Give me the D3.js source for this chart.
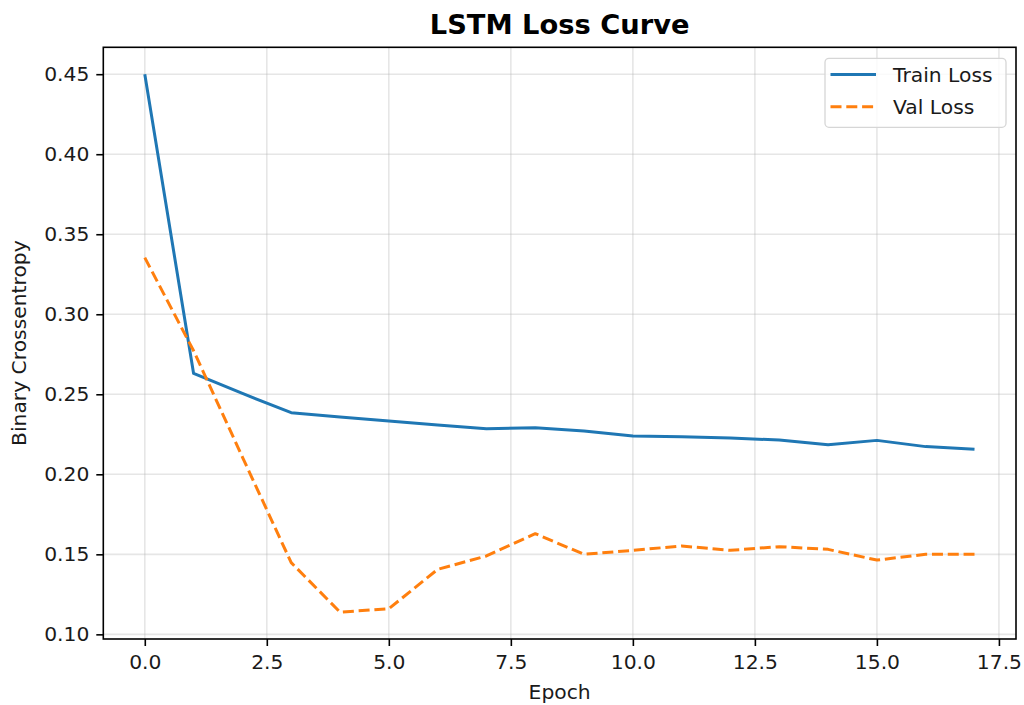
<!DOCTYPE html>
<html>
<head>
<meta charset="utf-8">
<script src="https://cdn.jsdelivr.net/npm/d3@7/dist/d3.min.js"></script>
<style>
  html, body { margin: 0; padding: 0; background: #fff; }
  svg { display: block; font-family: "DejaVu Sans", sans-serif; }
</style>
</head>
<body>
<svg id="chart" width="1024" height="705"></svg>
<script>
// Training history of the LSTM model, one value per epoch
const epochs = d3.range(0, 18);
const trainLoss = [0.450, 0.263, 0.2505, 0.2385, 0.2358, 0.2333, 0.2308, 0.2285, 0.2291,
                   0.2271, 0.2239, 0.2235, 0.2227, 0.2214, 0.2185, 0.2212, 0.2173, 0.2156];
const valLoss   = [0.3354, 0.2772, 0.2108, 0.1448, 0.1139, 0.1160, 0.1406, 0.1490, 0.1629,
                   0.1500, 0.1525, 0.1552, 0.1525, 0.1548, 0.1531, 0.1464, 0.1500, 0.1500];
const xTicks = [0, 2.5, 5, 7.5, 10, 12.5, 15, 17.5];
const yTicks = [0.10, 0.15, 0.20, 0.25, 0.30, 0.35, 0.40, 0.45];
const seriesNames = ["Train Loss", "Val Loss"];
const seriesColors = ["#1f77b4", "#ff7f0e"];

const svg = d3.select("#chart");
const plot = { left: 103.3, right: 1016, top: 47.3, bottom: 639 };
const fs = 20.3;

// Axis ranges padded by 5% of the data span on each side
const xMin = d3.min(epochs), xMax = d3.max(epochs);
const xPad = (xMax - xMin) * 0.05;
const allY = trainLoss.concat(valLoss);
const yMin = d3.min(allY), yMax = d3.max(allY);
const yPad = (yMax - yMin) * 0.05;

const x = d3.scaleLinear().domain([xMin - xPad, xMax + xPad]).range([plot.left, plot.right]);
const y = d3.scaleLinear().domain([yMin - yPad, yMax + yPad]).range([plot.bottom, plot.top]);

// Grid
const grid = svg.append("g");
grid.selectAll(".gx").data(xTicks).join("line")
  .attr("x1", d => x(d)).attr("x2", d => x(d))
  .attr("y1", plot.top).attr("y2", plot.bottom)
  .attr("stroke", "#b0b0b0").attr("stroke-opacity", 0.32).attr("stroke-width", 1.6);
grid.selectAll(".gy").data(yTicks).join("line")
  .attr("x1", plot.left).attr("x2", plot.right)
  .attr("y1", d => y(d)).attr("y2", d => y(d))
  .attr("stroke", "#b0b0b0").attr("stroke-opacity", 0.32).attr("stroke-width", 1.6);

// Lines
const line = vals => d3.line().x((d, i) => x(epochs[i])).y(d => y(d))(vals);
svg.append("path").attr("d", line(trainLoss))
  .attr("fill", "none").attr("stroke", seriesColors[0]).attr("stroke-width", 3)
  .attr("stroke-linejoin", "round").attr("stroke-linecap", "butt");
svg.append("path").attr("d", line(valLoss))
  .attr("fill", "none").attr("stroke", seriesColors[1]).attr("stroke-width", 3)
  .attr("stroke-dasharray", "11,4.8").attr("stroke-linejoin", "round");

// Axes
const xAxis = d3.axisBottom(x).tickValues(xTicks).tickFormat(d3.format(".1f"))
  .tickSizeInner(7).tickSizeOuter(0).tickPadding(7);
const yAxis = d3.axisLeft(y).tickValues(yTicks).tickFormat(d3.format(".2f"))
  .tickSizeInner(7).tickSizeOuter(0).tickPadding(7);

const gx = svg.append("g").attr("transform", `translate(0,${plot.bottom})`).call(xAxis);
const gy = svg.append("g").attr("transform", `translate(${plot.left},0)`).call(yAxis);
[gx, gy].forEach(g => {
  g.select(".domain").remove();
  g.selectAll(".tick line").attr("stroke", "#000").attr("stroke-width", 1.6);
  g.selectAll(".tick text").attr("fill", "#1a1a1a")
    .style("font-size", fs + "px").style("font-family", "DejaVu Sans");
});
gx.selectAll(".tick text").attr("dy", "0.8em");

// Frame
svg.append("rect")
  .attr("x", plot.left).attr("y", plot.top)
  .attr("width", plot.right - plot.left).attr("height", plot.bottom - plot.top)
  .attr("fill", "none").attr("stroke", "#000").attr("stroke-width", 1.6);

// Title and axis labels
svg.append("text").attr("x", (plot.left + plot.right) / 2).attr("y", 34)
  .attr("text-anchor", "middle").style("font-size", "27.3px").style("font-weight", "bold")
  .attr("fill", "#000").text("LSTM Loss Curve");
svg.append("text").attr("x", (plot.left + plot.right) / 2).attr("y", 699)
  .attr("text-anchor", "middle").style("font-size", fs + "px").attr("fill", "#1a1a1a")
  .text("Epoch");
svg.append("text")
  .attr("transform", `translate(26,${(plot.top + plot.bottom) / 2}) rotate(-90)`)
  .attr("text-anchor", "middle").style("font-size", fs + "px").attr("fill", "#1a1a1a")
  .text("Binary Crossentropy");

// Legend
const lg = svg.append("g");
lg.append("rect").attr("x", 825).attr("y", 58.3).attr("width", 181).attr("height", 69)
  .attr("rx", 4).attr("fill", "#fff").attr("fill-opacity", 0.8)
  .attr("stroke", "#d6d6d6").attr("stroke-width", 1.3);
seriesNames.forEach((name, i) => {
  const cy = 74.5 + i * 32.3;
  lg.append("line").attr("x1", 830.5).attr("x2", 876).attr("y1", cy).attr("y2", cy)
    .attr("stroke", seriesColors[i]).attr("stroke-width", 3)
    .attr("stroke-dasharray", i === 1 ? "11,4.8" : null);
  lg.append("text").attr("x", 893).attr("y", cy + 7.2)
    .style("font-size", fs + "px").attr("fill", "#1a1a1a").text(name);
});
</script>
</body>
</html>
